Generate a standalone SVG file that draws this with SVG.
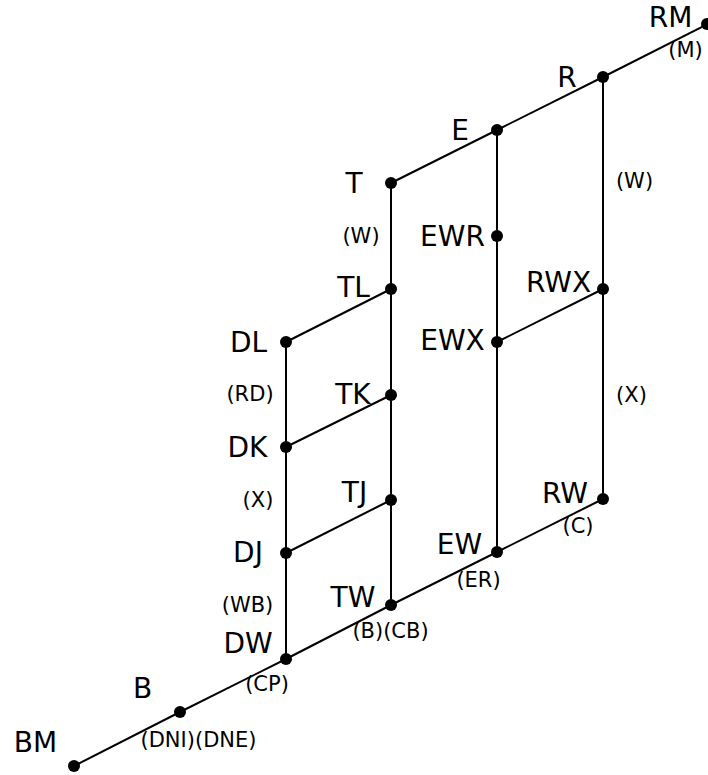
<svg xmlns="http://www.w3.org/2000/svg" width="708" height="775" viewBox="0 0 708 775">
<style>
  .e { stroke: #000; stroke-width: 2; fill: none; }
  .d { fill: #000; }
  .n { font-family: "DejaVu Sans", sans-serif; font-size: 28px; fill: #000; text-anchor: middle; }
  .l { font-family: "DejaVu Sans", sans-serif; font-size: 21px; fill: #000; text-anchor: middle; }
</style>
<rect width="708" height="775" fill="#fff"/>
<g id="connectors">
  <line class="e" x1="74" y1="766" x2="180" y2="712"/>
  <line class="e" x1="180" y1="712" x2="286" y2="659"/>
  <line class="e" x1="286" y1="659" x2="391" y2="605"/>
  <line class="e" x1="391" y1="605" x2="497" y2="552"/>
  <line class="e" x1="497" y1="552" x2="603" y2="499"/>
  <line class="e" x1="391" y1="183" x2="497" y2="130"/>
  <line class="e" x1="497" y1="130" x2="603" y2="77"/>
  <line class="e" x1="603" y1="77" x2="708" y2="24"/>
  <line class="e" x1="286" y1="342" x2="286" y2="447"/>
  <line class="e" x1="286" y1="447" x2="286" y2="553"/>
  <line class="e" x1="286" y1="553" x2="286" y2="659"/>
  <line class="e" x1="391" y1="183" x2="391" y2="289"/>
  <line class="e" x1="391" y1="289" x2="391" y2="395"/>
  <line class="e" x1="391" y1="395" x2="391" y2="500"/>
  <line class="e" x1="391" y1="500" x2="391" y2="605"/>
  <line class="e" x1="497" y1="130" x2="497" y2="236"/>
  <line class="e" x1="497" y1="236" x2="497" y2="342"/>
  <line class="e" x1="497" y1="342" x2="497" y2="552"/>
  <line class="e" x1="603" y1="77" x2="603" y2="289"/>
  <line class="e" x1="603" y1="289" x2="603" y2="499"/>
  <line class="e" x1="286" y1="342" x2="391" y2="289"/>
  <line class="e" x1="286" y1="447" x2="391" y2="395"/>
  <line class="e" x1="286" y1="553" x2="391" y2="500"/>
  <line class="e" x1="497" y1="342" x2="603" y2="289"/>
  <text class="l" x="198.5" y="747">(DNI)(DNE)</text>
  <text class="l" x="267" y="691">(CP)</text>
  <text class="l" x="390.5" y="638">(B)(CB)</text>
  <text class="l" x="478.5" y="587">(ER)</text>
  <text class="l" x="578" y="533">(C)</text>
  <text class="l" x="685.5" y="57">(M)</text>
  <text class="l" x="247.5" y="612">(WB)</text>
  <text class="l" x="258" y="507">(X)</text>
  <text class="l" x="250" y="401">(RD)</text>
  <text class="l" x="361" y="243">(W)</text>
  <text class="l" x="634.5" y="188">(W)</text>
  <text class="l" x="631.5" y="402">(X)</text>
</g>
<g id="BM"><circle class="d" cx="74" cy="766" r="6"/><text class="n" x="35.5" y="752">BM</text></g>
<g id="B"><circle class="d" cx="180" cy="712" r="6"/><text class="n" x="142.5" y="698">B</text></g>
<g id="DW"><circle class="d" cx="286" cy="659" r="6"/><text class="n" x="248" y="653">DW</text></g>
<g id="TW"><circle class="d" cx="391" cy="605" r="6"/><text class="n" x="353" y="607">TW</text></g>
<g id="EW"><circle class="d" cx="497" cy="552" r="6"/><text class="n" x="459.5" y="554">EW</text></g>
<g id="RW"><circle class="d" cx="603" cy="499" r="6"/><text class="n" x="565" y="503">RW</text></g>
<g id="DJ"><circle class="d" cx="286" cy="553" r="6"/><text class="n" x="248" y="562">DJ</text></g>
<g id="TJ"><circle class="d" cx="391" cy="500" r="6"/><text class="n" x="354.5" y="502">TJ</text></g>
<g id="DK"><circle class="d" cx="286" cy="447" r="6"/><text class="n" x="247.5" y="457">DK</text></g>
<g id="TK"><circle class="d" cx="391" cy="395" r="6"/><text class="n" x="353" y="404">TK</text></g>
<g id="DL"><circle class="d" cx="286" cy="342" r="6"/><text class="n" x="248.5" y="352">DL</text></g>
<g id="TL"><circle class="d" cx="391" cy="289" r="6"/><text class="n" x="353.5" y="297">TL</text></g>
<g id="T"><circle class="d" cx="391" cy="183" r="6"/><text class="n" x="354" y="193">T</text></g>
<g id="E"><circle class="d" cx="497" cy="130" r="6"/><text class="n" x="460" y="140">E</text></g>
<g id="EWR"><circle class="d" cx="497" cy="236" r="6"/><text class="n" x="452.5" y="246">EWR</text></g>
<g id="EWX"><circle class="d" cx="497" cy="342" r="6"/><text class="n" x="452.5" y="350">EWX</text></g>
<g id="RWX"><circle class="d" cx="603" cy="289" r="6"/><text class="n" x="558.5" y="292">RWX</text></g>
<g id="R"><circle class="d" cx="603" cy="77" r="6"/><text class="n" x="567" y="87">R</text></g>
<g id="RM"><circle class="d" cx="707" cy="24" r="6"/><text class="n" x="670.5" y="27">RM</text></g>
</svg>
